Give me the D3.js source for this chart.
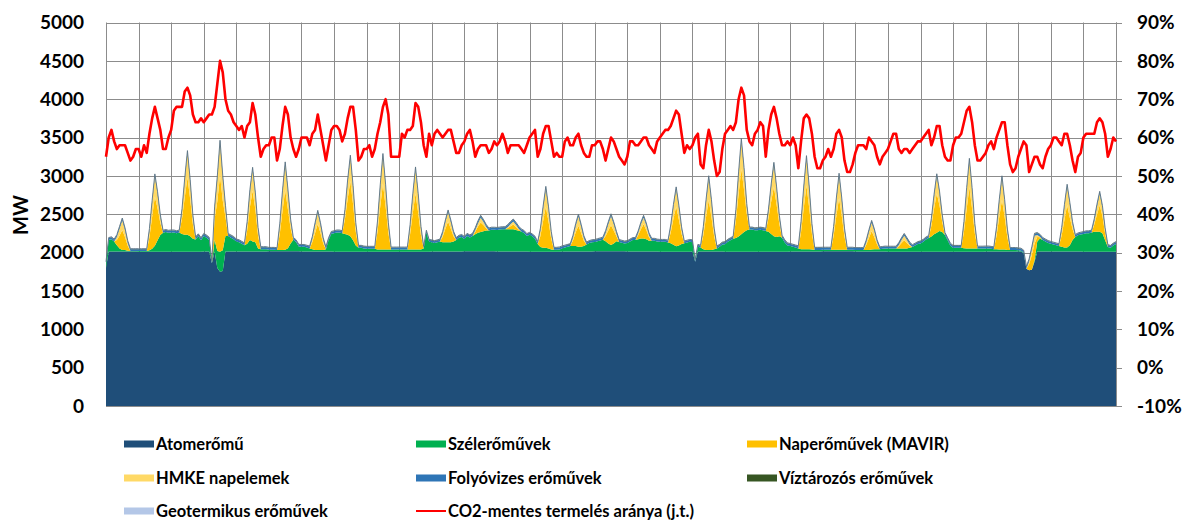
<!DOCTYPE html>
<html><head><meta charset="utf-8">
<script src="https://cdn.jsdelivr.net/npm/d3@7"></script>
<style>
body{margin:0;background:#fff;}
svg text{font-family:Lato,"Open Sans",sans-serif;font-weight:700;fill:#000;}
</style></head><body>
<svg id="chart" width="1185" height="520"></svg>
<script>
// 2-hourly readings (12 per day, 31 days + closing point)
const atom = [
1800,2015,2015,2015,2015,2015,2015,2015,2015,2015,2015,2015,
2010,2010,2010,2010,2010,2010,2010,2010,2010,2010,2010,2010,
2012,2012,2012,2012,2012,2012,2012,2012,2012,2012,2012,2012,
2015,2015,2015,1860,2015,1800,1750,1760,2015,2015,2015,2015,
2015,2015,2015,2015,2015,2015,2015,2015,2015,2015,2015,2015,
2018,2018,2018,2018,2018,2018,2018,2018,2018,2018,2018,2018,
2015,2015,2015,2015,2015,2015,2015,2015,2015,2015,2015,2015,
2012,2012,2012,2012,2012,2012,2012,2012,2012,2012,2012,2012,
2010,2010,2010,2010,2010,2010,2010,2010,2010,2010,2010,2010,
2012,2012,2012,2012,2012,2012,2012,2012,2012,2012,2012,2012,
2015,2015,2015,2015,2015,2015,2015,2015,2015,2015,2015,2015,
2018,2018,2018,2018,2018,2018,2018,2018,2018,2018,2018,2018,
2015,2015,2015,2015,2015,2015,2015,2015,2015,2015,2015,2015,
2012,2012,2012,2012,2012,2012,2012,2012,2012,2012,2012,2012,
2015,2015,2015,2015,2015,2015,2015,2015,2015,2015,2015,2015,
2018,2018,2018,2018,2018,2018,2018,2018,2018,2018,2018,2018,
2015,2015,2015,2015,2015,2015,2015,2015,2015,2015,2015,2015,
2012,2012,2012,2012,2012,2012,2012,2012,2012,2012,2012,2012,
2015,1880,2015,2015,2015,2015,2015,2015,2015,2015,2015,2015,
2010,2010,2010,2010,2010,2010,2010,2010,2010,2010,2010,2010,
2012,2012,2012,2012,2012,2012,2012,2012,2012,2012,2012,2012,
2015,2015,2015,2015,2015,2015,2015,2015,2015,2015,2015,2015,
2018,2018,2018,2018,2018,2018,2018,2018,2018,2018,2018,2018,
2015,2015,2015,2015,2015,2015,2015,2015,2015,2015,2015,2015,
2012,2012,2012,2012,2012,2012,2012,2012,2012,2012,2012,2012,
2010,2010,2010,2010,2010,2010,2010,2010,2010,2010,2010,2010,
2012,2012,2012,2012,2012,2012,2012,2012,2012,2012,2012,2012,
2015,2015,2015,2015,2015,2015,2015,2015,2015,2015,2015,2015,
2015,2015,1990,1790,1770,1775,1880,2015,2015,2015,2015,2015,
2015,2015,2015,2015,2015,2015,2015,2015,2015,2015,2015,2015,
2012,2012,2012,2012,2012,2012,2012,2012,2012,2012,2012,2012,
2012];

const wind = [
50,150,160,130,80,40,20,20,10,5,5,5,
10,10,10,10,20,40,80,150,220,250,260,250,
250,250,240,250,230,220,220,200,170,160,200,150,
200,180,150,0,150,220,260,270,200,200,180,160,
130,120,100,80,100,150,130,120,40,30,30,30,
20,20,20,15,15,15,20,40,100,150,120,60,
60,60,50,40,30,20,20,20,20,30,150,230,
240,250,250,240,230,220,200,150,80,50,50,40,
40,40,40,40,30,30,30,30,30,30,30,30,
30,30,30,30,30,30,30,30,30,40,250,130,
120,110,120,130,120,120,120,120,130,150,180,190,
160,200,180,200,220,240,250,260,270,270,280,280,
280,285,290,290,290,290,290,280,270,260,240,200,
220,200,170,100,60,50,50,40,30,25,25,30,
40,50,60,70,70,70,60,60,70,90,110,120,
120,130,140,150,130,100,80,100,130,120,110,100,
110,130,150,150,160,170,170,160,140,140,140,130,
130,130,130,120,110,90,70,80,100,110,120,130,
120,0,60,50,30,20,20,20,30,40,60,90,
100,130,150,170,180,200,230,260,280,290,290,280,
280,285,280,270,260,230,200,190,200,180,120,80,
70,60,50,40,30,30,30,30,25,20,20,20,
20,20,20,20,20,20,20,20,20,20,20,20,
20,20,20,20,20,20,25,30,30,30,35,40,
40,40,40,40,40,40,40,40,50,60,80,100,
110,130,160,180,200,230,250,270,260,220,150,80,
50,50,50,50,45,40,40,40,40,40,40,40,
40,40,35,30,30,25,25,25,20,20,20,20,
15,10,10,0,0,0,20,130,170,150,130,110,
100,90,80,70,60,50,50,80,150,190,210,220,
230,240,240,250,260,260,260,240,150,60,50,80,
100];

const solarMavir = [
0,0,0,0,70,169,260,169,65,0,0,0,
0,0,0,0,173,416,640,416,160,0,0,0,
0,0,0,0,203,488,750,488,188,0,0,0,
0,0,0,0,270,650,1000,650,250,0,0,0,
0,0,0,0,178,429,660,429,165,0,0,0,
0,0,0,0,211,507,780,507,195,0,0,0,
0,0,0,0,92,221,340,221,85,0,0,0,
0,0,0,0,194,468,720,468,180,0,0,0,
0,0,0,0,232,559,860,559,215,0,0,0,
0,0,0,0,197,475,730,475,183,0,0,0,
0,0,0,0,73,176,270,176,68,0,0,0,
0,0,0,0,34,81,125,81,31,0,0,0,
0,0,0,0,16,39,60,39,15,0,0,0,
0,0,0,0,146,351,540,351,135,0,0,0,
0,0,0,0,74,179,275,179,69,0,0,0,
0,0,0,0,70,169,260,169,65,0,0,0,
0,0,0,0,50,120,185,120,46,0,0,0,
0,0,0,0,140,338,520,338,130,0,0,0,
0,0,0,0,177,426,655,426,164,0,0,0,
0,0,0,0,230,553,850,553,213,0,0,0,
0,0,0,0,176,423,650,423,163,0,0,0,
0,0,0,0,224,540,830,540,208,0,0,0,
0,0,0,0,182,439,675,439,169,0,0,0,
0,0,0,0,65,156,240,156,60,0,0,0,
0,0,0,0,30,72,110,72,28,0,0,0,
0,0,0,0,139,335,515,335,129,0,0,0,
0,0,0,0,216,520,800,520,200,0,0,0,
0,0,0,0,176,423,650,423,163,0,0,0,
0,0,0,0,80,190,220,60,15,0,0,0,
0,0,0,0,150,361,555,361,139,0,0,0,
0,0,0,0,93,224,345,224,86,0,0,0,
0];

const hmke = [
0,0,0,0,38,88,125,88,35,0,0,0,
0,0,0,0,80,186,265,186,74,0,0,0,
0,0,0,0,95,221,315,221,88,0,0,0,
0,0,0,0,126,294,420,294,118,0,0,0,
0,0,0,0,83,193,275,193,77,0,0,0,
0,0,0,0,101,235,335,235,94,0,0,0,
0,0,0,0,44,102,145,102,41,0,0,0,
0,0,0,0,92,214,305,214,85,0,0,0,
0,0,0,0,108,252,360,252,101,0,0,0,
0,0,0,0,95,221,315,221,88,0,0,0,
0,0,0,0,36,84,120,84,34,0,0,0,
0,0,0,0,18,42,60,42,17,0,0,0,
0,0,0,0,12,28,40,28,11,0,0,0,
0,0,0,0,69,161,230,161,64,0,0,0,
0,0,0,0,36,84,120,84,34,0,0,0,
0,0,0,0,35,81,115,81,32,0,0,0,
0,0,0,0,26,60,85,60,24,0,0,0,
0,0,0,0,68,158,225,158,63,0,0,0,
0,0,0,0,84,196,280,196,78,0,0,0,
0,0,0,0,110,256,365,256,102,0,0,0,
0,0,0,0,84,196,280,196,78,0,0,0,
0,0,0,0,107,249,355,249,99,0,0,0,
0,0,0,0,87,203,290,203,81,0,0,0,
0,0,0,0,33,77,110,77,31,0,0,0,
0,0,0,0,17,40,57,40,16,0,0,0,
0,0,0,0,66,154,220,154,62,0,0,0,
0,0,0,0,104,242,345,242,97,0,0,0,
0,0,0,0,84,196,280,196,78,0,0,0,
0,0,0,0,35,80,100,25,6,0,0,0,
0,0,0,0,72,168,240,168,67,0,0,0,
0,0,0,0,45,105,150,105,42,0,0,0,
0];

// daily averages of the small producers (MW)
const riverDaily = [24,25,25,26,25,24,24,25,25,24,24,25,26,26,25,25,24,24,25,25,26,26,25,24,24,25,25,25,24,24,25];
const reservoirDaily = [4,3,5,6,4,3,4,5,4,3,4,5,4,3,4,5,4,3,4,5,6,5,4,3,4,5,4,3,5,4,4];
const geoDaily = [3,3,3,3,3,3,3,3,3,3,3,3,3,3,3,3,3,3,3,3,3,3,3,3,3,3,3,3,3,3,3];

// CO2-free share (%), right axis
const co2Share = [
55,60,62,59,57,58,58,58,56,54,55,57,
57,55,58,56,61,65,68,65,62,57,57,60,
62,67,68,68,68,72,73,71,66,64,64,65,
64,65,66,66,68,74,80,77,70,67,66,64,
63,62,63,60,63,64,69,66,60,55,57,58,
58,60,60,54,57,63,68,66,60,57,55,57,
60,60,60,58,61,62,66,62,58,54,58,62,
63,63,62,59,61,65,68,68,62,54,55,57,
57,58,55,57,61,64,68,70,66,55,55,55,
55,61,60,62,62,63,69,68,64,58,55,61,
58,61,62,61,60,61,62,62,59,56,56,58,
59,61,62,59,55,57,58,58,58,56,57,59,
58,59,61,59,56,58,58,58,58,57,56,58,
60,61,62,55,57,61,63,63,59,55,56,55,
55,59,60,58,58,60,61,58,56,55,55,58,
58,59,59,57,54,57,60,59,57,55,54,53,
55,59,59,58,58,59,60,60,58,57,56,59,
60,61,62,62,63,65,67,66,61,56,58,57,
58,60,61,53,52,58,62,59,54,50,51,57,
61,62,63,62,64,70,73,71,62,59,58,61,
62,64,63,55,62,66,68,65,61,58,58,59,
58,60,58,52,59,65,66,65,61,55,52,52,
54,55,57,55,57,61,62,60,54,51,51,53,
56,58,58,58,57,60,59,58,55,53,55,56,
57,59,61,61,57,56,57,57,56,57,58,59,
59,60,61,62,58,60,63,63,58,55,54,54,
58,60,60,61,64,67,68,64,58,54,54,55,
56,58,59,57,60,62,64,64,58,53,51,52,
55,57,59,58,51,53,55,55,53,52,55,57,
58,60,60,59,58,61,61,58,54,51,55,56,
60,61,61,61,61,64,65,64,61,55,57,60,
59];

const leftTicks = [0,500,1000,1500,2000,2500,3000,3500,4000,4500,5000];
const rightTicks = [-10,0,10,20,30,40,50,60,70,80,90];
const numDays = 31;
const perDay = 12;

const keys = ["atom","wind","solar","hmke","river","reservoir","geo"];
const legendLabels = ["Atomerőmű","Szélerőművek","Naperőművek (MAVIR)","HMKE napelemek","Folyóvizes erőművek","Víztározós erőművek","Geotermikus erőművek","CO2-mentes termelés aránya (j.t.)"];
const colors = {atom:"#1F4E79",wind:"#00B050",solar:"#FFC000",hmke:"#FFD966",river:"#2E75B6",reservoir:"#375623",geo:"#B4C7E7"};

const L=106, R=1116, T=22.5, B=406;
const svg = d3.select("#chart");
const x = d3.scaleLinear().domain([0,numDays]).range([L,R]);
const y = d3.scaleLinear().domain([0,5000]).range([B,T]);
const y2 = d3.scaleLinear().domain([-10,90]).range([B,T]);

const rows = atom.map((v,i)=>{
  const d = Math.min(numDays-1, Math.floor(i/perDay));
  return {t:i/perDay, atom:v, wind:wind[i], solar:solarMavir[i], hmke:hmke[i],
          river:riverDaily[d], reservoir:reservoirDaily[d], geo:geoDaily[d]};
});

// grid
const grid = svg.append("g");
grid.selectAll("line.h").data(leftTicks).join("line")
  .attr("x1",L).attr("x2",R).attr("y1",d=>Math.round(y(d))+0.5).attr("y2",d=>Math.round(y(d))+0.5)
  .attr("stroke","#8c8c8c").attr("stroke-width",1);
grid.selectAll("line.v").data(d3.range(numDays+1)).join("line")
  .attr("x1",d=>Math.round(x(d))+0.5).attr("x2",d=>Math.round(x(d))+0.5).attr("y1",T).attr("y2",B)
  .attr("stroke","#8c8c8c").attr("stroke-width",1);

// stacked areas
const stacked = d3.stack().keys(keys)(rows);
const area = d3.area().x(d=>x(d.data.t)).y0(d=>y(d[0])).y1(d=>y(d[1]));
svg.append("g").selectAll("path").data(stacked).join("path")
  .attr("d",area).attr("fill",d=>colors[d.key]);
// thin outline along the top of the stack
const topLayer = stacked[stacked.length-1];
svg.append("path").datum(topLayer)
  .attr("d",d3.line().x(d=>x(d.data.t)).y(d=>y(d[1])))
  .attr("fill","none").attr("stroke","#5a7282").attr("stroke-width",0.9);

// axes lines
svg.append("line").attr("x1",L).attr("x2",R).attr("y1",B+0.5).attr("y2",B+0.5).attr("stroke","#8c8c8c");
svg.append("line").attr("x1",R+0.5).attr("x2",R+0.5).attr("y1",T).attr("y2",B).attr("stroke","#8c8c8c");
svg.append("g").selectAll("line").data(rightTicks).join("line")
  .attr("x1",R).attr("x2",R+6).attr("y1",d=>Math.round(y2(d))+0.5).attr("y2",d=>Math.round(y2(d))+0.5)
  .attr("stroke","#8c8c8c");

// red line
const line = d3.line().x((d,i)=>x(i/perDay)).y(d=>y2(d));
svg.append("path").datum(co2Share).attr("d",line)
  .attr("fill","none").attr("stroke","#FF0000").attr("stroke-width",2.6).attr("stroke-linejoin","round");

// tick labels
svg.append("g").selectAll("text").data(leftTicks).join("text")
  .attr("x",84).attr("y",d=>y(d)).attr("dy","0.36em").attr("text-anchor","end")
  .style("font-size","19px").text(d=>d);
svg.append("g").selectAll("text").data(rightTicks).join("text")
  .attr("x",1137).attr("y",d=>y2(d)).attr("dy","0.36em").attr("text-anchor","start")
  .style("font-size","19px").text(d=>d+"%");
svg.append("text").attr("transform","translate(28,215) rotate(-90)").attr("text-anchor","middle")
  .style("font-size","20px").text("MW");

// legend
const colX=[124,416,747], rowY=[444,478,511];
const lg = svg.append("g");
legendLabels.forEach((lab,i)=>{
  const cx = colX[i%3], cy = rowY[Math.floor(i/3)];
  if(i<7){
    lg.append("rect").attr("x",cx).attr("y",cy-3.5).attr("width",30).attr("height",7).attr("fill",colors[keys[i]]);
  } else {
    lg.append("line").attr("x1",cx).attr("x2",cx+30).attr("y1",cy).attr("y2",cy).attr("stroke","#FF0000").attr("stroke-width",2);
  }
  lg.append("text").attr("x",cx+32).attr("y",cy).attr("dy","0.36em").style("font-size","16.5px").text(lab);
});
</script>
</body></html>
